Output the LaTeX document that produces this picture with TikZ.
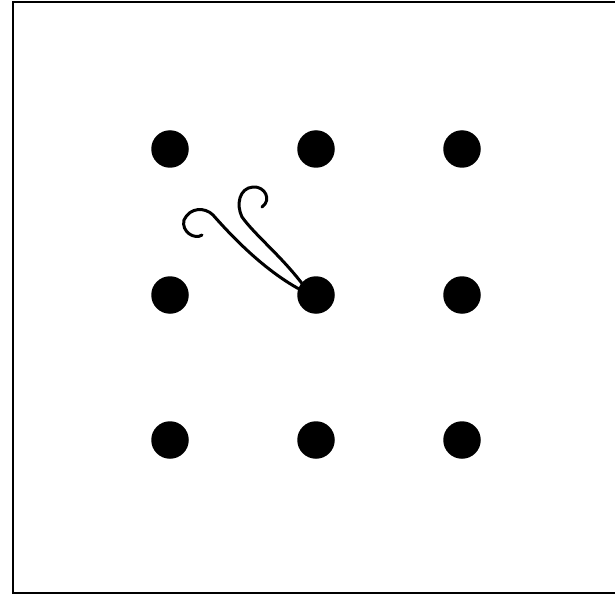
\documentclass[tikz,border=0pt]{standalone}
\begin{document}
\begin{tikzpicture}[x=1pt,y=-1pt,
  dot/.style={circle,fill=black,inner sep=0pt,minimum size=37.5pt},
  curl/.style={line width=3pt,line cap=round,line join=round}]
\useasboundingbox (0,0) rectangle (615,596);
\draw[line width=2pt] (615,2) -- (13,2) -- (13,593) -- (615,593);
\node[dot] (a1) at (170,149) {};
\node[dot] (a2) at (316,149) {};
\node[dot] (a3) at (462,149) {};
\node[dot] (b1) at (170,295) {};
\node[dot] (b2) at (316,295) {};
\node[dot] (b3) at (462,295) {};
\node[dot] (c1) at (170,440) {};
\node[dot] (c2) at (316,440) {};
\node[dot] (c3) at (462,440) {};
\draw[curl] (b2.160) .. controls (265,270) and (235,240) .. (213,215)
  .. controls (205,207) and (190,207) .. (184,220)
  .. controls (181,232) and (195,240) .. (202,235);
\draw[curl] (b2.140) .. controls (280,255) and (255,235) .. (242,217)
  .. controls (236,205) and (239,188) .. (253,187)
  .. controls (265,186) and (272,200) .. (262,207);
\end{tikzpicture}
\end{document}
